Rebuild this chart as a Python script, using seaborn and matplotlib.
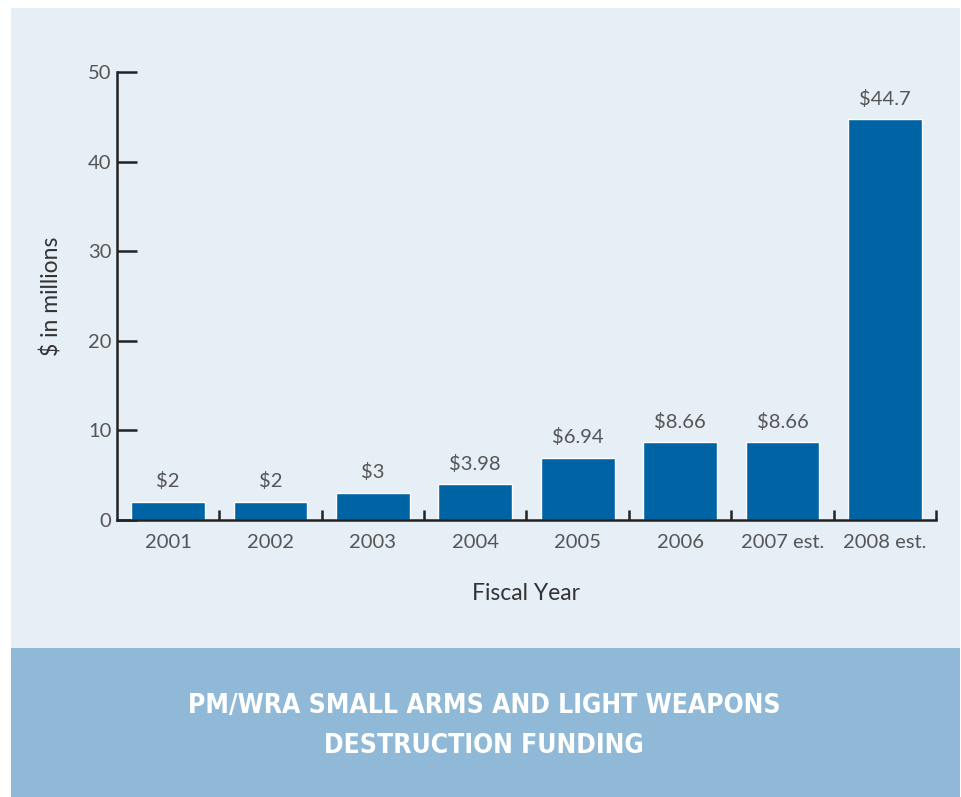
import matplotlib
matplotlib.use("Agg")
import matplotlib.pyplot as plt
from matplotlib.patches import Rectangle
import seaborn as sns
import pandas as pd

years = ["2001", "2002", "2003", "2004", "2005", "2006", "2007 est.", "2008 est."]
funding = [2, 2, 3, 3.98, 6.94, 8.66, 8.66, 44.7]
value_labels = ["$2", "$2", "$3", "$3.98", "$6.94", "$8.66", "$8.66", "$44.7"]
y_ticks = [0, 10, 20, 30, 40, 50]
title_lines = ["PM/WRA SMALL ARMS AND LIGHT WEAPONS", "DESTRUCTION FUNDING"]

sns.set_style("ticks")
plt.rcParams["font.family"] = ["Lato", "DejaVu Sans"]

W, H = 962, 797
fig = plt.figure(figsize=(W / 100, H / 100), dpi=100)
fig.patch.set_facecolor("white")

light = "#E6EEF6"
dark = "#8FB9D6"
fig.patches.append(Rectangle((11 / W, (H - 648) / H), 949 / W, 640 / H,
                             transform=fig.transFigure, facecolor=light, edgecolor="none", zorder=-5))
fig.patches.append(Rectangle((11 / W, 0), 949 / W, (H - 648) / H,
                             transform=fig.transFigure, facecolor=dark, edgecolor="none", zorder=-5))

left, right = 117 / W, 936 / W
bottom, top = (H - 520) / H, (H - 72) / H
ax = fig.add_axes([left, bottom, right - left, top - bottom])
ax.set_facecolor("none")
ax.set_zorder(2)

df = pd.DataFrame({"year": years, "funding": funding})
sns.barplot(data=df, x="year", y="funding", color="#0064A4", saturation=1,
            width=0.72, ax=ax)

for i, (v, lab) in enumerate(zip(funding, value_labels)):
    ax.annotate(lab, (i, v), xytext=(0, 8.5), textcoords="offset points",
                ha="center", va="bottom", fontsize=14.5, color="#555555")

ax.set_xlim(-0.5, len(years) - 0.5)
ax.set_ylim(0, 50)
ax.set_yticks(y_ticks)
ax.tick_params(axis="y", direction="in", length=14.5, width=1.8, color="#222222",
               labelsize=14.5, labelcolor="#555555", pad=4)
ax.tick_params(axis="x", which="major", length=0, labelsize=14.5, labelcolor="#555555", pad=10)
ax.set_xticks([i + 0.5 for i in range(len(years))], minor=True)
ax.tick_params(axis="x", which="minor", direction="in", length=7, width=1.8, color="#222222")

for s in ["top", "right"]:
    ax.spines[s].set_visible(False)
for s in ["left", "bottom"]:
    ax.spines[s].set_linewidth(1.8)
    ax.spines[s].set_color("#222222")

ax.set_xlabel("Fiscal Year", fontsize=16.5, color="#333333", labelpad=23)
ax.set_ylabel("$ in millions", fontsize=16.5, color="#333333", labelpad=18)

for txt, ypx in zip(title_lines, [706, 746]):
    fig.text(484 / W, (H - ypx) / H, txt, ha="center", va="center",
             fontsize=19, color="white", fontweight="bold", fontstretch="condensed",
             family=["DejaVu Sans"])

fig.savefig("out.png", dpi=100, facecolor=fig.get_facecolor())
